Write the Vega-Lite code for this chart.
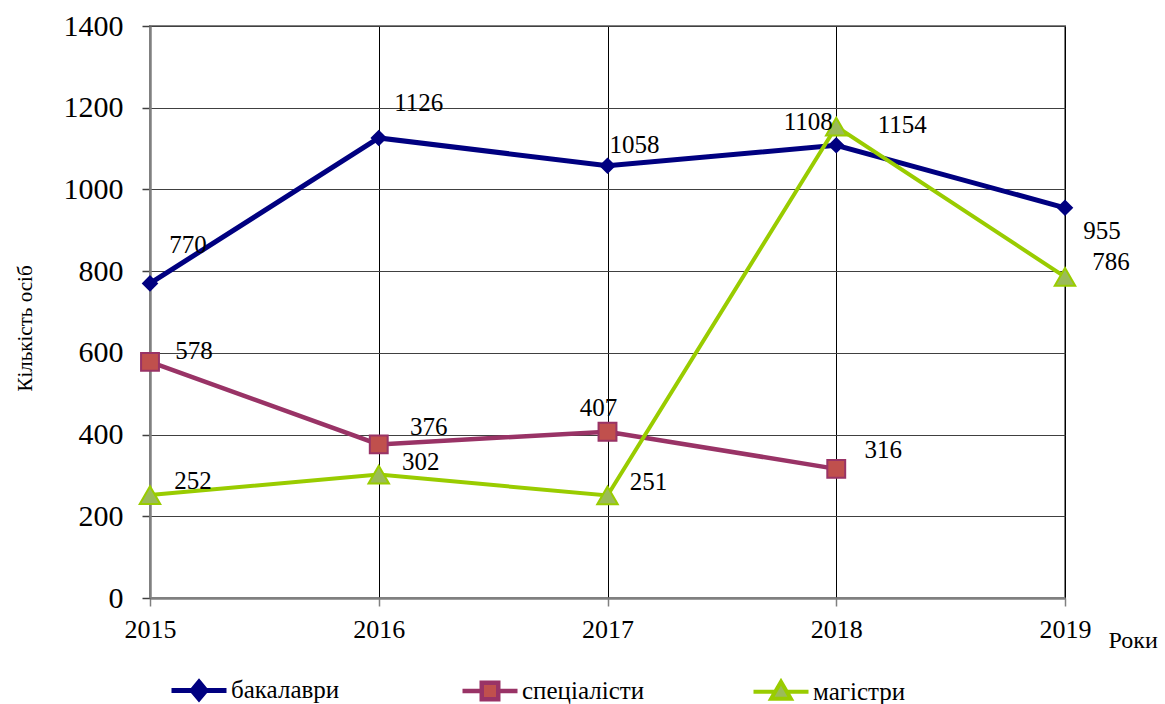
{
  "$schema": "https://vega.github.io/schema/vega-lite/v6.json",
  "width": 915,
  "height": 572,
  "autosize": {"type": "none"},
  "padding": {"left": 150, "top": 26, "right": 100, "bottom": 106},
  "background": "white",
  "config": {
    "view": {"stroke": "#808080", "strokeWidth": 2},
    "font": "Liberation Serif",
    "text": {"font": "Liberation Serif", "fontSize": 25, "color": "black", "align": "center", "baseline": "middle"}
  },
  "data": {
    "values": [
      {"year": 2015, "s": "бакалаври", "v": 770},
      {"year": 2016, "s": "бакалаври", "v": 1126},
      {"year": 2017, "s": "бакалаври", "v": 1058},
      {"year": 2018, "s": "бакалаври", "v": 1108},
      {"year": 2019, "s": "бакалаври", "v": 955},
      {"year": 2015, "s": "спеціалісти", "v": 578},
      {"year": 2016, "s": "спеціалісти", "v": 376},
      {"year": 2017, "s": "спеціалісти", "v": 407},
      {"year": 2018, "s": "спеціалісти", "v": 316},
      {"year": 2015, "s": "магістри", "v": 252},
      {"year": 2016, "s": "магістри", "v": 302},
      {"year": 2017, "s": "магістри", "v": 251},
      {"year": 2018, "s": "магістри", "v": 1154},
      {"year": 2019, "s": "магістри", "v": 786}
    ]
  },
  "encoding": {
    "x": {
      "field": "year", "type": "ordinal",
      "scale": {"type": "point", "padding": 0},
      "axis": {
        "title": "Роки", "labelAngle": 0, "labelFont": "Liberation Serif", "labelFontSize": 26, "labelColor": "black",
        "labelPadding": 10, "tickSize": 8, "tickColor": "#808080", "tickWidth": 1.5,
        "domainColor": "#808080", "domainWidth": 2.5,
        "grid": true, "gridColor": "black", "gridWidth": 1,
        "titleFont": "Liberation Serif", "titleFontSize": 24, "titleFontWeight": "normal", "titleColor": "black",
        "titleX": 958, "titleY": 42, "titleAlign": "left", "titleBaseline": "middle"
      }
    },
    "y": {
      "field": "v", "type": "quantitative",
      "scale": {"domain": [0, 1400], "nice": false},
      "axis": {
        "title": "Кількість осіб", "values": [0, 200, 400, 600, 800, 1000, 1200, 1400], "format": "d",
        "labelFont": "Liberation Serif", "labelFontSize": 30, "labelColor": "black", "labelPadding": 19,
        "tickSize": 8, "tickColor": "#404040", "tickWidth": 1.5,
        "domainColor": "#808080", "domainWidth": 2.5,
        "grid": true, "gridColor": "#404040", "gridWidth": 1,
        "titleFont": "Liberation Serif", "titleFontSize": 21, "titleFontWeight": "normal", "titleColor": "black",
        "titleX": -125, "titleY": 302, "titleAngle": -90, "titleAlign": "center", "titleBaseline": "middle"
      }
    }
  },
  "layer": [
    {
      "mark": {"type": "line"},
      "encoding": {
        "color": {
          "field": "s", "type": "nominal",
          "scale": {"domain": ["бакалаври", "спеціалісти", "магістри"], "range": ["#000080", "#993366", "#99CC00"]},
          "legend": {
            "orient": "none", "legendX": 19, "legendY": 634, "direction": "horizontal", "columns": 3,
            "gridAlign": "all", "columnPadding": 99, "title": null, "padding": 0,
            "labelFont": "Liberation Serif", "labelFontSize": 25, "labelColor": "black", "labelOffset": 2, "labelLimit": 300,
            "symbolSize": 3025, "symbolStrokeWidth": 3.5,
            "encode": {
              "symbols": {
                "update": {
                  "shape": {"signal": "datum.value === 'бакалаври' ? 'M-1,0H-0.25M0.25,0H1M0,-0.3L0.25,0L0,0.3L-0.25,0Z' : datum.value === 'спеціалісти' ? 'M-1,0H-0.3M0.3,0H1M-0.3,-0.3H0.3V0.3H-0.3Z' : 'M-1,0H-0.2M0.2,0H1M0,-0.36L0.36,0.26H-0.36Z'"},
                  "fill": {"signal": "datum.value === 'бакалаври' ? '#000080' : datum.value === 'спеціалісти' ? '#C0504D' : '#9BBB59'"},
                  "stroke": {"signal": "datum.value === 'бакалаври' ? '#000080' : datum.value === 'спеціалісти' ? '#993366' : '#99CC00'"},
                  "opacity": {"value": 1},
                  "fillOpacity": {"value": 1}
                }
              }
            }
          }
        },
        "strokeWidth": {
          "field": "s", "type": "nominal",
          "scale": {"domain": ["бакалаври", "спеціалісти", "магістри"], "range": [5, 4, 4.5]},
          "legend": null
        }
      }
    },
    {
      "transform": [{"filter": "datum.s === 'бакалаври'"}],
      "mark": {"type": "point", "shape": "diamond", "filled": true, "opacity": 1, "fill": "#000080", "stroke": "#000080", "strokeWidth": 2, "size": 190}
    },
    {
      "transform": [{"filter": "datum.s === 'спеціалісти'"}],
      "mark": {"type": "point", "shape": "square", "filled": true, "opacity": 1, "fill": "#C0504D", "stroke": "#993366", "strokeWidth": 2, "size": 320}
    },
    {
      "transform": [{"filter": "datum.s === 'магістри'"}],
      "mark": {"type": "point", "shape": "triangle-up", "filled": true, "opacity": 1, "fill": "#9BBB59", "stroke": "#99CC00", "strokeWidth": 2, "size": 420}
    },
    {"transform": [{"filter": "datum.s === 'бакалаври' && datum.year == 2015"}], "mark": {"type": "text", "dx": 38, "dy": -38}, "encoding": {"text": {"field": "v"}}},
    {"transform": [{"filter": "datum.s === 'бакалаври' && datum.year == 2016"}], "mark": {"type": "text", "dx": 40, "dy": -35}, "encoding": {"text": {"field": "v"}}},
    {"transform": [{"filter": "datum.s === 'бакалаври' && datum.year == 2017"}], "mark": {"type": "text", "dx": 27, "dy": -21}, "encoding": {"text": {"field": "v"}}},
    {"transform": [{"filter": "datum.s === 'бакалаври' && datum.year == 2018"}], "mark": {"type": "text", "dx": -28, "dy": -23}, "encoding": {"text": {"field": "v"}}},
    {"transform": [{"filter": "datum.s === 'бакалаври' && datum.year == 2019"}], "mark": {"type": "text", "dx": 37, "dy": 23}, "encoding": {"text": {"field": "v"}}},
    {"transform": [{"filter": "datum.s === 'спеціалісти' && datum.year == 2015"}], "mark": {"type": "text", "dx": 44, "dy": -11}, "encoding": {"text": {"field": "v"}}},
    {"transform": [{"filter": "datum.s === 'спеціалісти' && datum.year == 2016"}], "mark": {"type": "text", "dx": 50, "dy": -17}, "encoding": {"text": {"field": "v"}}},
    {"transform": [{"filter": "datum.s === 'спеціалісти' && datum.year == 2017"}], "mark": {"type": "text", "dx": -9, "dy": -24}, "encoding": {"text": {"field": "v"}}},
    {"transform": [{"filter": "datum.s === 'спеціалісти' && datum.year == 2018"}], "mark": {"type": "text", "dx": 47, "dy": -19}, "encoding": {"text": {"field": "v"}}},
    {"transform": [{"filter": "datum.s === 'магістри' && datum.year == 2015"}], "mark": {"type": "text", "dx": 43, "dy": -14}, "encoding": {"text": {"field": "v"}}},
    {"transform": [{"filter": "datum.s === 'магістри' && datum.year == 2016"}], "mark": {"type": "text", "dx": 42, "dy": -13}, "encoding": {"text": {"field": "v"}}},
    {"transform": [{"filter": "datum.s === 'магістри' && datum.year == 2017"}], "mark": {"type": "text", "dx": 41, "dy": -13}, "encoding": {"text": {"field": "v"}}},
    {"transform": [{"filter": "datum.s === 'магістри' && datum.year == 2018"}], "mark": {"type": "text", "dx": 66, "dy": -2}, "encoding": {"text": {"field": "v"}}},
    {"transform": [{"filter": "datum.s === 'магістри' && datum.year == 2019"}], "mark": {"type": "text", "dx": 46, "dy": -15}, "encoding": {"text": {"field": "v"}}}
  ]
}
